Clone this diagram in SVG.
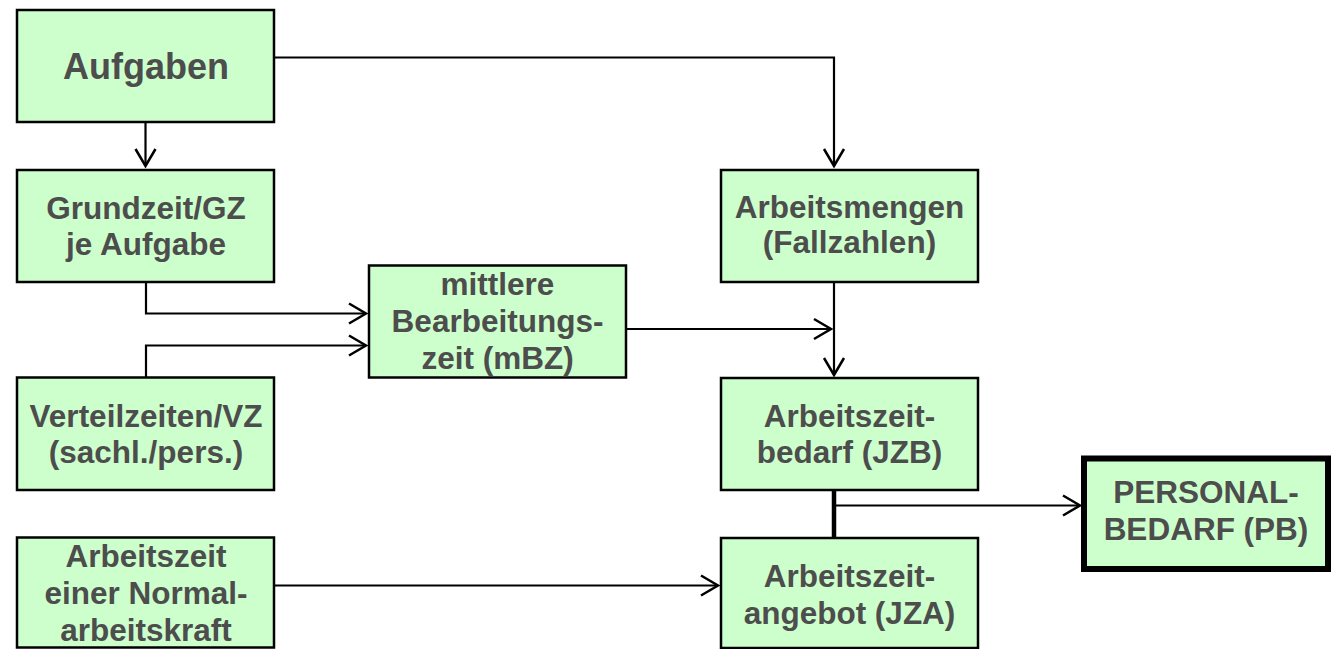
<svg xmlns="http://www.w3.org/2000/svg" width="1333" height="649" viewBox="0 0 1333 649">
<defs>
<style>
.box{fill:#CCFFCC;stroke:#000;stroke-width:2.5}
.thick{fill:#CCFFCC;stroke:#000;stroke-width:6}
.t{font-family:"Liberation Sans",Arial,sans-serif;font-weight:bold;font-size:31.5px;fill:#4D4D4D;text-anchor:middle}
.big{font-size:36px}
.c{fill:none;stroke:#000;stroke-width:2.2}
</style>
<marker id="arr" markerUnits="userSpaceOnUse" markerWidth="30" markerHeight="30" viewBox="-20 -15 30 30" refX="0" refY="0" orient="auto">
<path d="M-17,-10 L0,0 L-17,10" fill="none" stroke="#000" stroke-width="2.5"/>
</marker>
</defs>
<g id="connectors">
<path class="c" d="M274,57.5 H834 V166" marker-end="url(#arr)"/>
<path class="c" d="M145.5,122 V166" marker-end="url(#arr)"/>
<path class="c" d="M146,282 V313.5 H366" marker-end="url(#arr)"/>
<path class="c" d="M146,377 V345.5 H366" marker-end="url(#arr)"/>
<path class="c" d="M626,329 H831" marker-end="url(#arr)"/>
<path class="c" d="M834,282 V375" marker-end="url(#arr)"/>
<path d="M834,490 V538" fill="none" stroke="#000" stroke-width="4.5"/>
<path class="c" d="M834,505.5 H1080" marker-end="url(#arr)"/>
<path class="c" d="M274,585.5 H718" marker-end="url(#arr)"/>
</g>
<g id="aufgaben">
<rect class="box" x="17" y="10" width="257" height="112"/>
<text class="t big" x="146" y="79">Aufgaben</text>
</g>
<g id="grundzeit">
<rect class="box" x="17" y="170" width="257" height="112"/>
<text class="t" x="146" y="219">Grundzeit/GZ</text>
<text class="t" x="146" y="255">je Aufgabe</text>
</g>
<g id="mbz">
<rect class="box" x="369" y="265.5" width="257" height="112"/>
<text class="t" x="497.5" y="295">mittlere</text>
<text class="t" x="497.5" y="332">Bearbeitungs-</text>
<text class="t" x="497.5" y="369">zeit (mBZ)</text>
</g>
<g id="arbeitsmengen">
<rect class="box" x="721" y="170" width="257" height="112"/>
<text class="t" x="849.5" y="218">Arbeitsmengen</text>
<text class="t" x="849.5" y="253">(Fallzahlen)</text>
</g>
<g id="verteilzeiten">
<rect class="box" x="17" y="377.5" width="257" height="112.5"/>
<text class="t" x="146" y="427">Verteilzeiten/VZ</text>
<text class="t" x="146" y="463">(sachl./pers.)</text>
</g>
<g id="jzb">
<rect class="box" x="721" y="378" width="257" height="112"/>
<text class="t" x="849.5" y="427">Arbeitszeit-</text>
<text class="t" x="849.5" y="463">bedarf (JZB)</text>
</g>
<g id="pb">
<rect class="thick" x="1084" y="458.5" width="244" height="110.5"/>
<text class="t" x="1206" y="503">PERSONAL-</text>
<text class="t" x="1206" y="540">BEDARF (PB)</text>
</g>
<g id="normal">
<rect class="box" x="17" y="537.5" width="257" height="110"/>
<text class="t" x="146" y="567">Arbeitszeit</text>
<text class="t" x="146" y="604">einer Normal-</text>
<text class="t" x="146" y="641">arbeitskraft</text>
</g>
<g id="jza">
<rect class="box" x="721" y="538" width="257" height="110"/>
<text class="t" x="849.5" y="587">Arbeitszeit-</text>
<text class="t" x="849.5" y="624">angebot (JZA)</text>
</g>
</svg>
